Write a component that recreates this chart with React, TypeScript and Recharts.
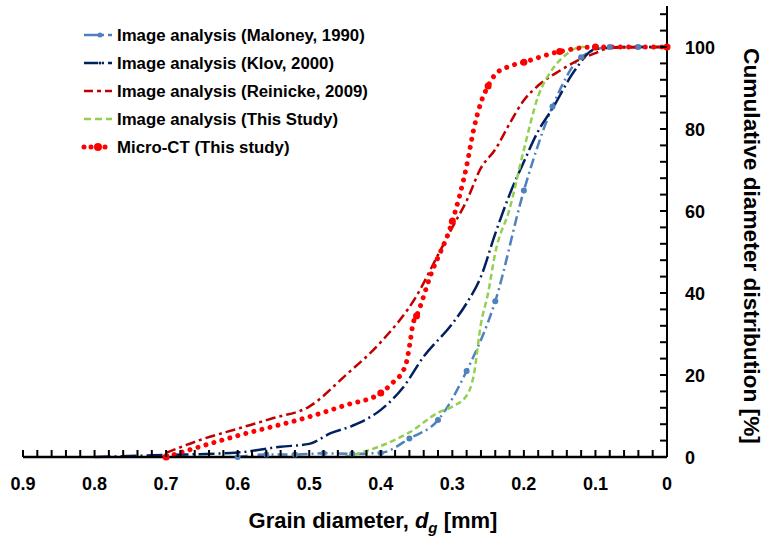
import { LineChart, Line, XAxis, YAxis } from 'recharts';

// grain diameter [mm] vs cumulative distribution [%]
const maloneyX = [0.6, 0.56, 0.52, 0.48, 0.44, 0.4, 0.36, 0.32, 0.28, 0.24, 0.2, 0.16, 0.12, 0.08, 0.04, 0];
const maloneyY = [0, 0.6, 0.6, 0.9, 0.8, 1, 4.5, 9, 21, 38, 65, 85.5, 97.5, 100, 100, 100];

const klovX = [0.8, 0.7, 0.6, 0.54, 0.5, 0.47, 0.44, 0.4, 0.37, 0.34, 0.3, 0.28, 0.26, 0.24, 0.22, 0.2, 0.18, 0.16, 0.13, 0.1, 0.05, 0];
const klovY = [0, 0.5, 1.1, 2.5, 3.2, 5.8, 7.6, 11.5, 16.7, 24.5, 32.5, 37.5, 44, 54.5, 64, 72, 79.5, 85, 94, 99.5, 100, 100];

const reinickeX = [0.7, 0.65, 0.6, 0.55, 0.5, 0.45, 0.4, 0.35, 0.32, 0.3, 0.28, 0.26, 0.24, 0.22, 0.2, 0.18, 0.15, 0.12, 0.1, 0.08, 0];
const reinickeY = [1, 4.3, 6.9, 9.5, 12.3, 19.8, 28, 39.3, 49.3, 56, 62.5, 70.5, 75, 81.3, 87, 90.6, 94.2, 97.1, 98.5, 99.8, 100];

const thisStudyX = [0.45, 0.4, 0.36, 0.32, 0.3, 0.28, 0.27, 0.26, 0.25, 0.24, 0.22, 0.2, 0.18, 0.16, 0.14, 0.12, 0.11];
const thisStudyY = [0, 2.7, 6, 10.8, 12.3, 15, 20, 32.5, 40, 49.8, 60.5, 75, 88, 94.6, 98.3, 100, 100];

const microCtX = [0.7, 0.6, 0.5, 0.45, 0.4, 0.38, 0.37, 0.364, 0.359, 0.355, 0.35, 0.33, 0.3, 0.28, 0.27, 0.26, 0.25, 0.24, 0.22, 0.2, 0.15, 0.1, 0];
const microCtY = [0, 5.2, 9.8, 12.6, 15.6, 18.7, 20.6, 23.2, 28, 32.5, 34.4, 44.5, 57.5, 71, 80, 86.5, 90.5, 93.3, 95.3, 96.3, 98.9, 100, 100];
// points that carry a round marker in the original
const microCtMarkers = [0.7, 0.4, 0.35, 0.3, 0.25, 0.2, 0.15, 0.1, 0];

const xMajor = [0, 0.1, 0.2, 0.3, 0.4, 0.5, 0.6, 0.7, 0.8, 0.9];
const yMajor = [0, 20, 40, 60, 80, 100];

// minor ticks: every 0.02 mm and every 4 %
const xTicks = Array.from({ length: 46 }, (_, i) => +(i * 0.02).toFixed(2));
const yTicks = Array.from({ length: 28 }, (_, i) => i * 4);

const FONT = '"Liberation Sans", Arial, sans-serif';
const TICK = 7;

const toPoints = (xs: number[], ys: number[]) => xs.map((x, i) => ({ x, y: ys[i] }));

const isMajor = (list: number[], v: number) => list.some((m) => Math.abs(m - v) < 1e-6);

// tick marks point inward, drawn from the axis position recharts hands the tick
function XTick(props: any) {
  const { x, y, payload } = props;
  const v = payload.value;
  const ax = Number(y);
  return (
    <g>
      <path d={`M${x},${ax}V${ax - TICK}`} stroke="#000" strokeWidth={2} fill="none" />
      {isMajor(xMajor, v) && (
        <text x={x} y={ax + 32.5} textAnchor="middle" fontFamily={FONT} fontWeight="bold" fontSize={18} fill="#000">
          {String(Math.round(v * 10) / 10)}
        </text>
      )}
    </g>
  );
}

function YTick(props: any) {
  const { x, y, payload } = props;
  const v = payload.value;
  const ax = Number(x);
  return (
    <g>
      <path d={`M${ax},${y}H${ax - TICK}`} stroke="#000" strokeWidth={2} fill="none" />
      {isMajor(yMajor, v) && (
        <text x={ax + 18} y={y + 6.5} textAnchor="start" fontFamily={FONT} fontWeight="bold" fontSize={18} fill="#000">
          {v}
        </text>
      )}
    </g>
  );
}

function MicroCtDot(props: any) {
  const { cx, cy, payload, index } = props;
  if (!isMajor(microCtMarkers, payload.x)) return <g key={`mct-${index}`} />;
  return <circle key={`mct-${index}`} cx={cx} cy={cy} r={3.5} fill="#FF0000" />;
}

const legendItems = [
  { name: 'Image analysis (Maloney, 1990)', color: '#4F81BD', dash: '14 4 2 4', marker: 2.5 },
  { name: 'Image analysis (Klov, 2000)', color: '#002060', dash: '14 4 2 4', marker: 1.5 },
  { name: 'Image analysis (Reinicke, 2009)', color: '#C00000', dash: '9 4 4 4', marker: 0 },
  { name: 'Image analysis (This Study)', color: '#92D050', dash: '7 4', marker: 0 },
  { name: 'Micro-CT (This study)', color: '#FF0000', dash: 'dots', marker: 4 },
];

export default function App() {
  return (
    <div style={{ position: 'relative', width: 765, height: 536, background: '#fff' }}>
      <style>{'body{margin:0}'}</style>
      <LineChart width={765} height={536} margin={{ top: 6, right: 38, bottom: 39, left: 23 }}>
        <XAxis
          type="number"
          dataKey="x"
          domain={[0, 0.9]}
          reversed
          ticks={xTicks}
          interval={0}
          tickLine={false}
          tickSize={0}
          tickMargin={0}
          tick={XTick}
          axisLine={{ stroke: '#000', strokeWidth: 2.5 }}
          height={40}
        />
        <YAxis
          orientation="right"
          type="number"
          domain={[0, 110]}
          ticks={yTicks}
          interval={0}
          tickLine={false}
          tickSize={0}
          tickMargin={0}
          tick={YTick}
          axisLine={{ stroke: '#000', strokeWidth: 2 }}
          width={60}
        />
        <Line
          data={toPoints(maloneyX, maloneyY)}
          dataKey="y"
          type="monotone"
          stroke="#4F81BD"
          strokeWidth={2.5}
          strokeDasharray="10 4 2 4"
          dot={{ r: 3, fill: '#4F81BD', stroke: 'none' }}
          isAnimationActive={false}
        />
        <Line
          data={toPoints(klovX, klovY)}
          dataKey="y"
          type="monotone"
          stroke="#002060"
          strokeWidth={2.5}
          strokeDasharray="16 4 2 4"
          dot={false}
          isAnimationActive={false}
        />
        <Line
          data={toPoints(reinickeX, reinickeY)}
          dataKey="y"
          type="monotone"
          stroke="#C00000"
          strokeWidth={2.5}
          strokeDasharray="10 4 3 4"
          dot={false}
          isAnimationActive={false}
        />
        <Line
          data={toPoints(thisStudyX, thisStudyY)}
          dataKey="y"
          type="monotone"
          stroke="#92D050"
          strokeWidth={2.5}
          strokeDasharray="6 3.5"
          dot={false}
          isAnimationActive={false}
        />
        <Line
          data={toPoints(microCtX, microCtY)}
          dataKey="y"
          type="monotone"
          stroke="#FF0000"
          strokeWidth={5}
          strokeLinecap="round"
          strokeDasharray="0.01 8.3"
          dot={MicroCtDot}
          isAnimationActive={false}
        />
      </LineChart>

      {/* legend + axis titles */}
      <svg width={765} height={536} style={{ position: 'absolute', left: 0, top: 0, pointerEvents: 'none' }}>
        {legendItems.map((item, i) => {
          const cy = 35 + i * 28;
          return (
            <g key={item.name}>
              {item.dash === 'dots' ? (
                <line x1={84} x2={112} y1={cy} y2={cy} stroke={item.color} strokeWidth={5} strokeLinecap="round" strokeDasharray="0.01 7" />
              ) : (
                <line x1={84} x2={112} y1={cy} y2={cy} stroke={item.color} strokeWidth={2.5} strokeDasharray={item.dash} />
              )}
              {item.marker > 0 && <circle cx={item.dash === 'dots' ? 98 : 100} cy={cy} r={item.marker} fill={item.color} />}
              <text x={117} y={cy + 5.8} fontFamily={FONT} fontWeight="bold" fontSize={16.8} fill="#000">
                {item.name}
              </text>
            </g>
          );
        })}
        <text x={373} y={528} textAnchor="middle" fontFamily={FONT} fontWeight="bold" fontSize={22} fill="#000">
          Grain diameter,{' '}
          <tspan fontStyle="italic">d</tspan>
          <tspan fontStyle="italic" fontSize={15} dy={5}>g</tspan>
          <tspan dy={-5}> [mm]</tspan>
        </text>
        <text
          x={744}
          y={246}
          textAnchor="middle"
          transform="rotate(90, 744, 246)"
          fontFamily={FONT}
          fontWeight="bold"
          fontSize={22.7}
          fill="#000"
        >
          Cumulative diameter distribution [%]
        </text>
      </svg>
    </div>
  );
}
